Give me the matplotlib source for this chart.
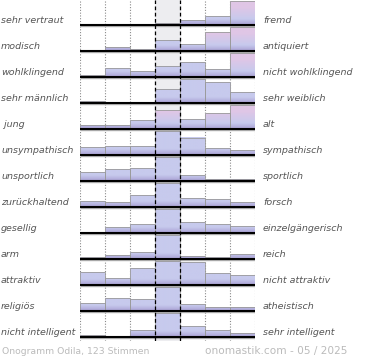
import numpy as np
import matplotlib
matplotlib.use("Agg")
import matplotlib.pyplot as plt
from matplotlib.colors import to_rgb
from matplotlib.transforms import blended_transform_factory

# Onogramm Odila - bar heights (tallest bar in a row = 24)
left_labels = ["sehr vertraut", "modisch", "wohlklingend", "sehr männlich", " jung",
               "unsympathisch", "unsportlich", "zurückhaltend", "gesellig", "arm",
               "attraktiv", "religiös", "nicht intelligent"]
right_labels = ["fremd", "antiquiert", "nicht wohlklingend", "sehr weiblich", "alt",
                "sympathisch", "sportlich", "forsch", "einzelgängerisch", "reich",
                "nicht attraktiv", "atheistisch", "sehr intelligent"]
values = [
    [0, 0, 0, 2, 5, 9, 24],
    [0, 4, 2, 11, 7, 19, 24],
    [2, 9, 6, 11, 15, 8, 24],
    [2, 0, 0, 14, 24, 21, 11],
    [3.5, 3.5, 9, 19, 10, 16, 24],
    [8, 9, 9, 24, 17, 7, 5],
    [9, 12, 13, 24, 6, 2, 2],
    [6, 5, 12, 24, 9, 8, 5],
    [1, 6, 9, 24, 11, 9, 7],
    [2, 4, 7, 24, 3, 2, 5],
    [13, 7, 17, 24, 23, 12, 10],
    [8, 13, 12, 24, 7, 4, 4],
    [2, 0, 7, 24, 11, 7, 4],
]
footer_left = "Onogramm Odila, 123 Stimmen"
footer_right = "onomastik.com - 05 / 2025"

# bars whose top turns pink (row, bin)
pink_bars = {(0, 6), (1, 5), (1, 6), (2, 6), (4, 3), (4, 5), (4, 6)}

nrows = len(values)
nbins = len(values[0])
row_h = 24 / 26          # max bar height in row units
base_off = 4 / 26        # bottom row baseline above axes bottom

fig = plt.figure(figsize=(3.7, 3.6), dpi=100)
ax = fig.add_axes([80 / 370, (360 - 341) / 360, 175 / 370, 341 / 360])
ax.set_xlim(0, nbins)
ax.set_ylim(0, 341 / 26)
ax.axis("off")

# neutral column
ax.axvspan(3, 4, color="#ededf0", zorder=0)
for xv in [0, 1, 2, 5, 6, 7]:
    ax.axvline(xv, color="#8a8a8a", lw=0.8, ls=(0, (1, 1.5)), zorder=1)

c_bot = np.array(to_rgb("#a9a1d4"))
c_mid = np.array(to_rgb("#c7caed"))
c_pink = np.array(to_rgb("#e0c6e6"))


def gradient(h, pink):
    n = 60
    t = np.linspace(0, h, n)  # height in px from baseline
    cols = []
    for tv in t:
        f = min(tv / 6.0, 1.0)
        c = c_bot * (1 - f) + c_mid * f
        if pink and tv > 6:
            g = min((tv - 6) / 12.0, 1.0)
            c = c * (1 - g) + c_pink * g
        cols.append(c)
    return np.array(cols)[::-1][:, None, :]


tr = blended_transform_factory(fig.transFigure, ax.transData)
for i, row in enumerate(values):
    yb = base_off + (nrows - 1 - i)
    for j, v in enumerate(row):
        if v <= 0:
            continue
        h = v / 24 * row_h
        img = gradient(v, (i, j) in pink_bars)
        ax.imshow(img, extent=[j, j + 1, yb, yb + h], aspect="auto",
                  interpolation="bilinear", zorder=2)
    heights = [v / 24 * row_h for v in row]
    ax.bar(np.arange(nbins), heights, width=1, bottom=yb, align="edge",
           fill=False, edgecolor="#9a9a9a", lw=0.6, zorder=3)
    ax.hlines(yb - 0.04, 0, nbins, color="#b0b0b0", lw=1.0, zorder=3)
    ax.hlines(yb, 0, nbins, color="black", lw=1.5, zorder=4)
    ax.text(1 / 370, yb + 0.19, left_labels[i], transform=tr, ha="left", va="center",
            fontsize=6.8, style="italic", color="#555555")
    ax.text(263 / 370, yb + 0.19, right_labels[i], transform=tr, ha="left", va="center",
            fontsize=6.8, style="italic", color="#555555")

for xv in [3, 4]:
    ax.axvline(xv, color="black", lw=0.9, ls=(0, (3, 2)), zorder=5)

ax.set_xlim(0, nbins)
ax.set_ylim(0, 341 / 26)

fig.text(2 / 370, 1 - 351 / 360, footer_left, ha="left", va="center",
         fontsize=6.7, color="#bbbbbb")
fig.text(347 / 370, 1 - 351 / 360, footer_right, ha="right", va="center",
         fontsize=7.6, color="#bbbbbb")

fig.savefig("out.png", dpi=100)
